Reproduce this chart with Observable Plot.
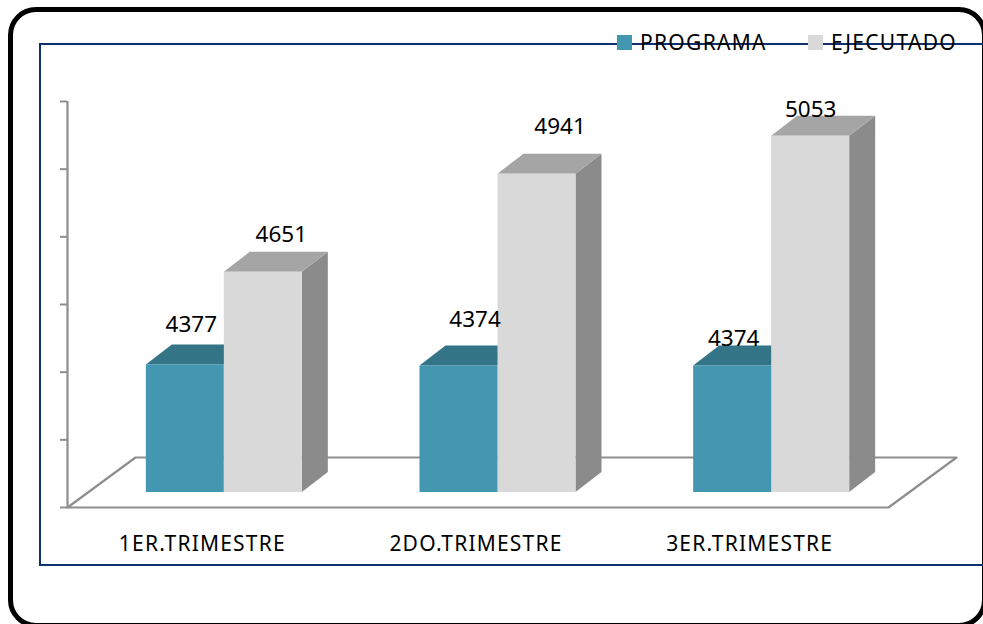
<!DOCTYPE html>
<html>
<head>
<meta charset="utf-8">
<script src="https://cdn.jsdelivr.net/npm/d3@7"></script>
<script src="https://cdn.jsdelivr.net/npm/@observablehq/plot@0.6"></script>
<style>
  html, body { margin: 0; padding: 0; background: #fff; }
  #wrap { position: relative; width: 983px; height: 624px; overflow: hidden; background: #fff; font-family: "Noto Sans", sans-serif; }
  .outer { position: absolute; left: 8px; top: 7px; width: 979px; height: 621px; box-sizing: border-box; border: 5px solid #000; border-radius: 28px; }
  .navy { position: absolute; left: 39px; top: 43px; width: 970px; height: 523px; box-sizing: border-box; border: 2px solid #10306f; }
  #chart { position: absolute; left: 0; top: 0; }
  .leg { position: absolute; top: 32px; display: flex; align-items: center; height: 21px; font-size: 21px; line-height: 21px; letter-spacing: 1.3px; color: #000; }
  .leg .sw { width: 15px; height: 15px; margin-right: 8px; }
</style>
</head>
<body>
<div id="wrap">
  <div class="outer"></div>
  <div class="navy"></div>
  <div id="chart"></div>
  <div class="leg" style="left:617px"><div class="sw" style="background:#4397b0"></div><span>PROGRAMA</span></div>
  <div class="leg" style="left:808px"><div class="sw" style="background:#d9d9d9"></div><span>EJECUTADO</span></div>
</div>
<script>
// ---- data ----
const categories = ["1ER.TRIMESTRE", "2DO.TRIMESTRE", "3ER.TRIMESTRE"];
const series = ["PROGRAMA", "EJECUTADO"];
const programa = [4377, 4374, 4374];
const ejecutado = [4651, 4941, 5053];
const yTicks = [4000, 4200, 4400, 4600, 4800, 5000, 5200];

// ---- layout (pixels) ----
const W = 983, H = 624, mL = 67, mR = 95, mT = 101, mB = 117;
const yMin = 4000, yMax = 5200;
const kx = categories.length / (W - mL - mR);   // x units per px
const ky = (yMax - yMin) / (H - mT - mB);        // y units per px
const frontOff = [20, 15];   // bar front plane offset (right, up)
const barDepth = [26, 20];   // bar depth (right, up)
const floorDepth = [68, 50]; // floor depth (right, up)
const barWpx = 78;
const labelNudge = [[[6, 40], [18, 37]], [[16, 46], [23, 47]], [[1, 27], [0, 26]]];
const colors = {
  PROGRAMA: {front: "#4397b0", top: "#337586", side: "#2b6473"},
  EJECUTADO: {front: "#d9d9d9", top: "#a5a5a5", side: "#8b8b8b"}
};

const values = {PROGRAMA: programa, EJECUTADO: ejecutado};
const bw = barWpx * kx, ox = frontOff[0] * kx, oy = frontOff[1] * ky;
const dX = barDepth[0] * kx, dY = barDepth[1] * ky;

const bars = categories.flatMap((c, i) => series.map((s, j) => {
  const v = values[s][i];
  const x1 = i + 0.5 + (j - 1) * bw + ox;
  return {id: c + s, c, s, i, j, v, x1, x2: x1 + bw, y0: yMin + oy, y1: v + oy};
}));

const topPts = bars.flatMap(b => [
  {id: b.id, s: b.s, y: b.y1, x1: b.x1, x2: b.x2},
  {id: b.id, s: b.s, y: b.y1 + dY, x1: b.x1 + dX, x2: b.x2 + dX}
]);
const sidePts = bars.flatMap(b => [
  {id: b.id, s: b.s, x: b.x2, y1: b.y0, y2: b.y1},
  {id: b.id, s: b.s, x: b.x2 + dX, y1: b.y0 + dY, y2: b.y1 + dY}
]);

const FD = floorDepth[0] * kx, FE = floorDepth[1] * ky;
const n = categories.length;
const floor = [
  {x: 0, y: yMin}, {x: n, y: yMin}, {x: n + FD, y: yMin + FE}, {x: FD, y: yMin + FE}, {x: 0, y: yMin}
];

const gray = "#8e8e8e";

const plot = Plot.plot({
  width: W, height: H,
  marginLeft: mL, marginRight: mR, marginTop: mT, marginBottom: mB,
  x: {domain: [0, n], axis: null},
  y: {domain: [yMin, yMax], axis: null},
  color: {type: "identity"},
  style: {background: "transparent", fontFamily: "Noto Sans", color: "#000"},
  marks: [
    Plot.line(floor, {x: "x", y: "y", stroke: gray, strokeWidth: 2.2, fill: "none"}),
    Plot.ruleX([0], {y1: yMin, y2: yMax, stroke: gray, strokeWidth: 2.2}),
    Plot.ruleY(yTicks, {y: d => d, x1: -7 * kx, x2: 0, stroke: gray, strokeWidth: 2}),
    Plot.areaY(sidePts, {x: "x", y1: "y1", y2: "y2", z: "id", fill: d => colors[d.s].side}),
    Plot.areaX(topPts, {y: "y", x1: "x1", x2: "x2", z: "id", fill: d => colors[d.s].top}),
    Plot.rect(bars, {x1: "x1", x2: "x2", y1: "y0", y2: "y1", fill: d => colors[d.s].front}),
    Plot.text(bars, {
      x: d => (d.x1 + d.x2) / 2 + labelNudge[d.i][d.j][0] * kx,
      y: d => d.y1 + labelNudge[d.i][d.j][1] * ky,
      text: d => String(d.v), fontSize: 22.5, fill: "#000"
    }),
    Plot.text(categories, {
      x: (d, i) => i + 0.5 - 2 * kx, y: yMin, dy: 37, text: d => d,
      fontSize: 21, fill: "#000"
    })
  ]
});
document.getElementById("chart").appendChild(plot);
d3.select(plot).selectAll("text").filter(function() { return categories.includes(this.textContent); })
  .style("letter-spacing", "1.2px");
</script>
</body>
</html>
